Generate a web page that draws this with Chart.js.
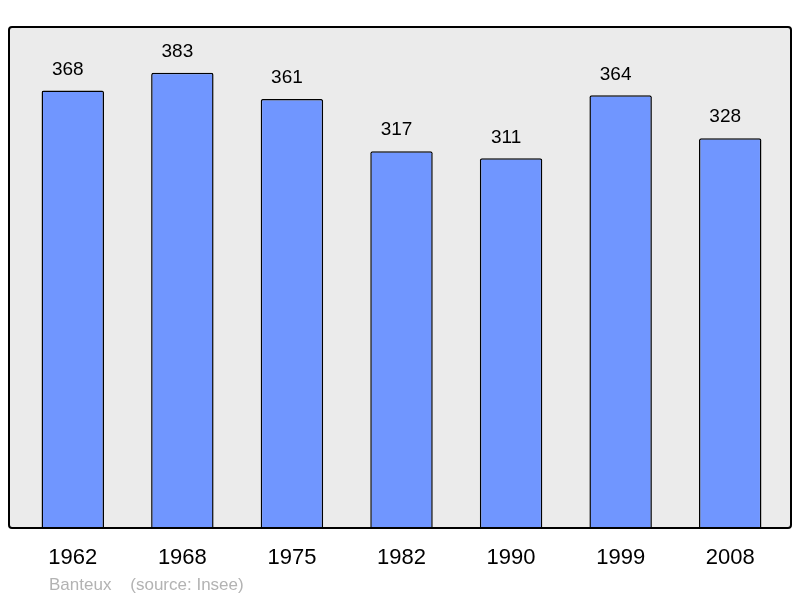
<!DOCTYPE html>
<html>
<head>
<meta charset="utf-8">
<script src="https://cdn.jsdelivr.net/npm/chart.js@4/dist/chart.umd.min.js"></script>
<style>
  body { margin: 0; background: #ffffff; }
  canvas { display: block; }
</style>
</head>
<body>
<canvas id="myChart" width="800" height="598"></canvas>
<script>
// 資料
const years = ['1962', '1968', '1975', '1982', '1990', '1999', '2008'];
const population = [368, 383, 361, 317, 311, 364, 328];
const footerText = 'Banteux    (source: Insee)';

// 外框與背景
const framePlugin = {
    id: 'frame',
    beforeDatasetsDraw(chart) {
        const { ctx, chartArea } = chart;
        ctx.save();
        ctx.fillStyle = '#ebebeb';
        ctx.beginPath();
        ctx.roundRect(chartArea.left - 9, chartArea.top, chartArea.right - chartArea.left + 15, chartArea.bottom - chartArea.top, 3);
        ctx.fill();
        ctx.restore();
    },
    afterDatasetsDraw(chart) {
        const { ctx, chartArea } = chart;
        ctx.save();
        ctx.strokeStyle = '#000000';
        ctx.lineWidth = 2;
        ctx.beginPath();
        ctx.roundRect(chartArea.left - 9, chartArea.top, chartArea.right - chartArea.left + 15, chartArea.bottom - chartArea.top, 3);
        ctx.stroke();

        // 數值標籤
        const meta = chart.getDatasetMeta(0);
        ctx.fillStyle = '#000000';
        ctx.font = '19px "Liberation Sans", Arial, sans-serif';
        ctx.textAlign = 'center';
        ctx.textBaseline = 'middle';
        meta.data.forEach((bar, i) => {
            ctx.fillText(String(population[i]), bar.x - 5, bar.y - 21);
        });

        // 來源
        ctx.fillStyle = '#b3b3b3';
        ctx.font = '17px "Liberation Sans", Arial, sans-serif';
        ctx.textAlign = 'left';
        ctx.fillText(footerText, 49, 585);
        ctx.restore();
    }
};

const ctx = document.getElementById('myChart').getContext('2d');
const myChart = new Chart(ctx, {
    type: 'bar',
    data: {
        labels: years,
        datasets: [{
            data: population,
            backgroundColor: '#7096ff',
            borderColor: '#000000',
            borderWidth: 1.5,
            borderRadius: 2,
            barPercentage: 0.57,
            categoryPercentage: 1.0
        }]
    },
    options: {
        responsive: false,
        animation: false,
        layout: {
            padding: { left: 18, right: 15, top: 27, bottom: 0 }
        },
        plugins: {
            legend: { display: false },
            tooltip: { enabled: false }
        },
        scales: {
            y: {
                display: false,
                min: 0,
                max: 421.5
            },
            x: {
                grid: { display: false, drawTicks: false },
                border: { display: false },
                ticks: {
                    color: '#000000',
                    padding: 17,
                    font: { family: '"Liberation Sans", Arial, sans-serif', size: 22 }
                },
                afterFit(scale) {
                    scale.height = 70;
                }
            }
        }
    },
    plugins: [framePlugin]
});
</script>
</body>
</html>
